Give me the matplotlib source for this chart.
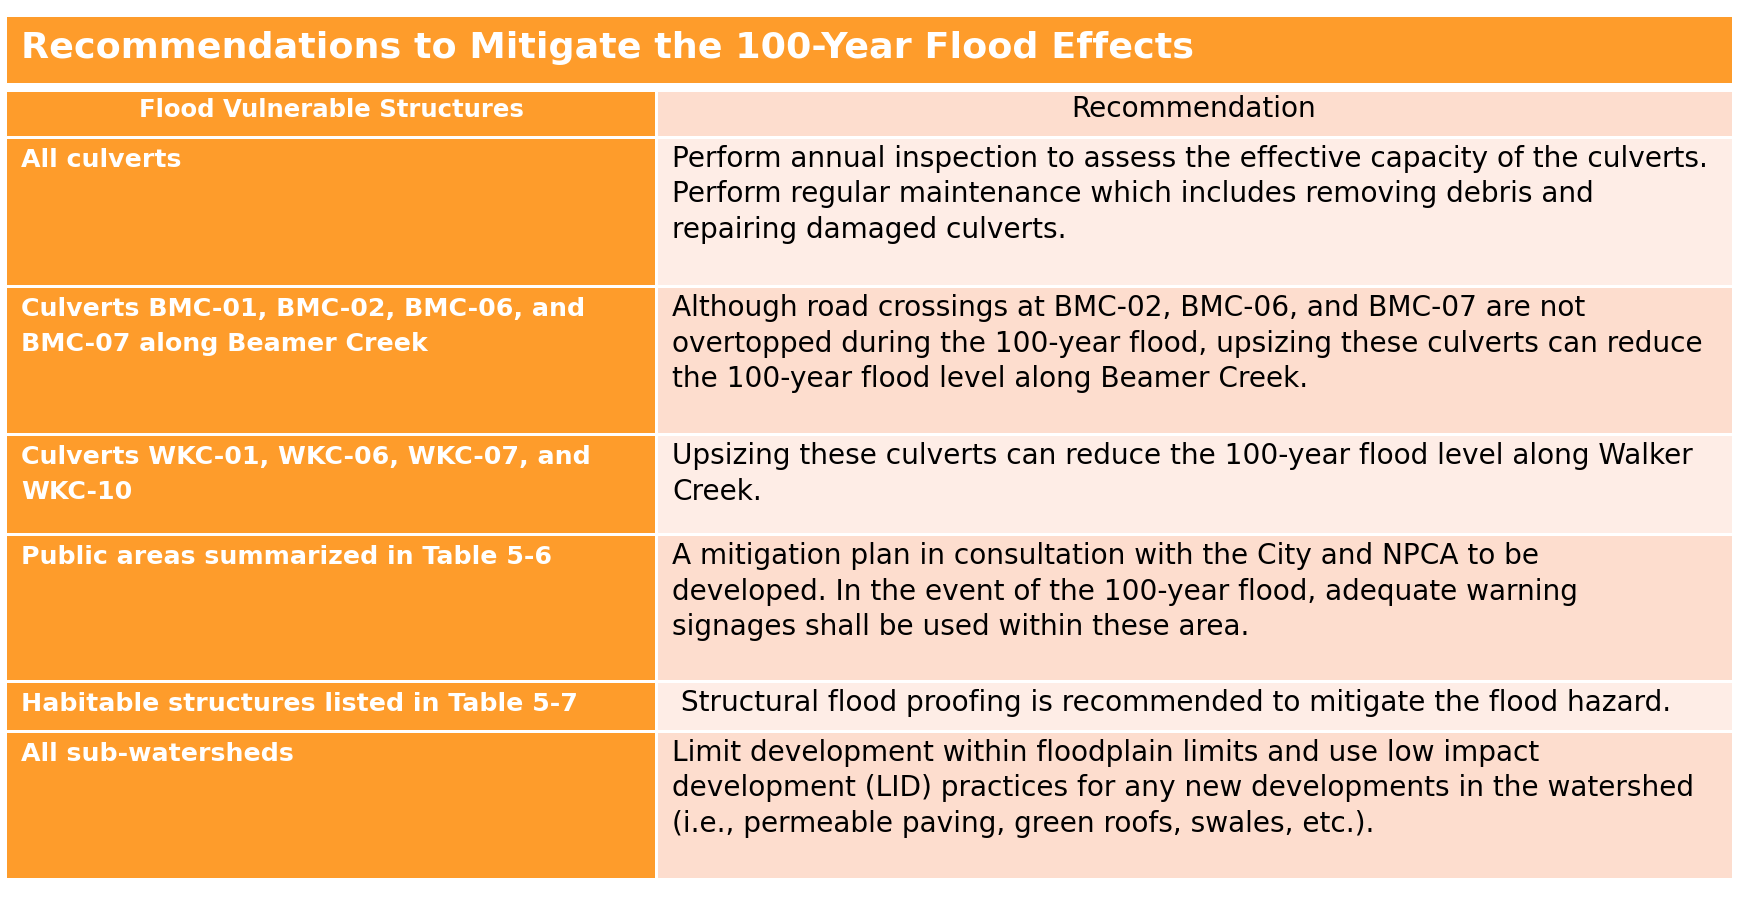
import matplotlib
matplotlib.use('Agg')
import matplotlib.pyplot as plt
from matplotlib.patches import Rectangle

title = 'Recommendations to Mitigate the 100-Year Flood Effects'
col_headers = ['Flood Vulnerable Structures', 'Recommendation']

structures = [
    'All culverts',
    'Culverts BMC-01, BMC-02, BMC-06, and\nBMC-07 along Beamer Creek',
    'Culverts WKC-01, WKC-06, WKC-07, and\nWKC-10',
    'Public areas summarized in Table 5-6',
    'Habitable structures listed in Table 5-7',
    'All sub-watersheds',
]
recommendations = [
    'Perform annual inspection to assess the effective capacity of the culverts.\n'
    'Perform regular maintenance which includes removing debris and\n'
    'repairing damaged culverts.',
    'Although road crossings at BMC-02, BMC-06, and BMC-07 are not\n'
    'overtopped during the 100-year flood, upsizing these culverts can reduce\n'
    'the 100-year flood level along Beamer Creek.',
    'Upsizing these culverts can reduce the 100-year flood level along Walker\n'
    'Creek.',
    'A mitigation plan in consultation with the City and NPCA to be\n'
    'developed. In the event of the 100-year flood, adequate warning\n'
    'signages shall be used within these area.',
    ' Structural flood proofing is recommended to mitigate the flood hazard.',
    'Limit development within floodplain limits and use low impact\n'
    'development (LID) practices for any new developments in the watershed\n'
    '(i.e., permeable paving, green roofs, swales, etc.).',
]

# layout in pixels (top, bottom) of each body row
row_edges = [(139, 285), (288, 433), (436, 533), (536, 680), (683, 730), (733, 878)]
left, mid, right = 7, 656, 1732

orange = '#FE9C2B'
peach = '#FDDDCE'
light = '#FEEDE6'

W, H = 1746, 898
fig = plt.figure(figsize=(W / 100, H / 100), dpi=100)
ax = fig.add_axes([0, 0, 1, 1])
ax.set_xlim(0, W)
ax.set_ylim(H, 0)
ax.axis('off')
renderer = fig.canvas.get_renderer()
FAM = 'DejaVu Sans'


def fit(text, target, weight='normal'):
    t = ax.text(0, 0, text, fontsize=20, fontweight=weight, family=FAM)
    w = t.get_window_extent(renderer).width
    t.remove()
    return 20 * target / w


fs_title = fit(title, 1170, 'bold')
fs_head = fit(col_headers[0], 386, 'bold')
fs_left = fit('Culverts BMC-01, BMC-02, BMC-06, and', 564, 'bold')
fs_right = fit(recommendations[0].split('\n')[0], 1040)


def cell(x0, y0, x1, y1, color):
    ax.add_patch(Rectangle((x0, y0), x1 - x0, y1 - y0, facecolor=color,
                           edgecolor='none'))


def lines(x, base, text, fs, weight='normal', color='black', step=35.5):
    for i, ln in enumerate(text.split('\n')):
        ax.text(x, base + i * step, ln, fontsize=fs, fontweight=weight,
                family=FAM, color=color, va='baseline', ha='left')


# title bar
cell(left, 17, right, 83, orange)
ax.text(21, 58, title, fontsize=fs_title, fontweight='bold', family=FAM,
        color='white', va='baseline')

# header row
cell(left, 92, mid - 1.5, 136, orange)
cell(mid + 1.5, 92, right, 136, peach)
ax.text((left + mid) / 2, 117, col_headers[0], fontsize=fs_head,
        fontweight='bold', family=FAM, color='white', ha='center', va='baseline')
ax.text((mid + right) / 2, 117, col_headers[1], fontsize=fs_right * 1.0,
        family=FAM, color='black', ha='center', va='baseline')

for i, (top, bot) in enumerate(row_edges):
    cell(left, top, mid - 1.5, bot, orange)
    cell(mid + 1.5, top, right, bot, light if i % 2 == 0 else peach)
    lines(21, top + 28, structures[i], fs_left, 'bold', 'white', 35)
    lines(672, top + 28, recommendations[i], fs_right, 'normal', 'black', 35.5)

fig.savefig('out.png', dpi=100, facecolor='white')
